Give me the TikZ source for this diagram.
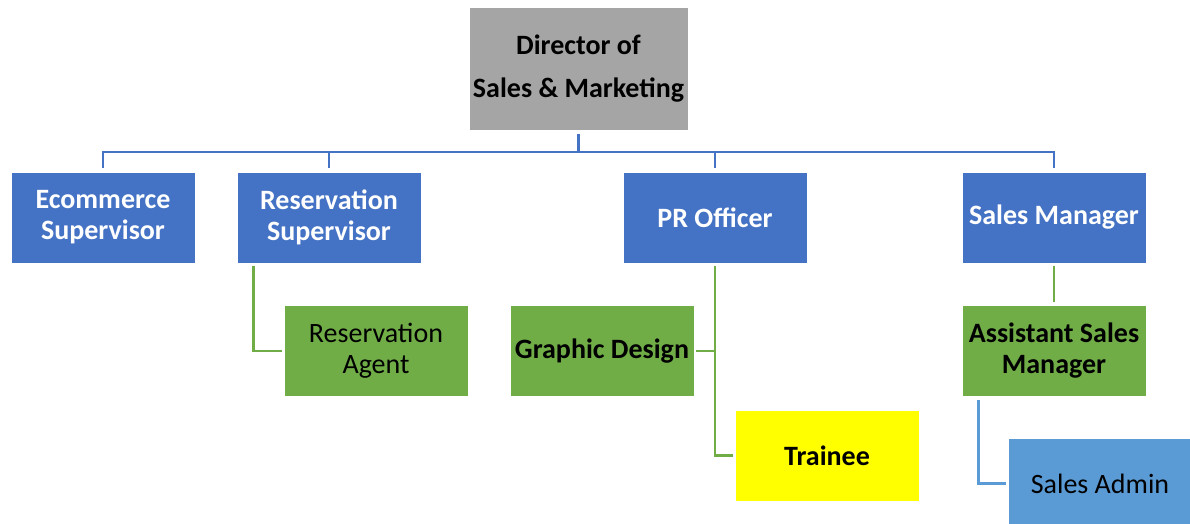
\documentclass[tikz,border=0pt]{standalone}
\usepackage{fontspec}
\setmainfont{Carlito}
\definecolor{boxblue}{HTML}{4472C4}
\definecolor{boxgreen}{HTML}{70AD47}
\definecolor{boxgray}{HTML}{A5A5A5}
\definecolor{boxyellow}{HTML}{FFFF00}
\definecolor{boxlight}{HTML}{5B9BD5}
\newcommand{\cardfont}{\fontsize{28}{31}\selectfont}
\begin{document}
\begin{tikzpicture}[x=1pt,y=-1pt,
  card/.style={draw=white,line width=0.6pt,minimum width=184pt,minimum height=91pt,
    align=center,inner sep=0pt,font=\cardfont},
  boldcard/.style={card,font=\cardfont\bfseries},
  headcard/.style={boldcard,fill=boxblue,text=white},
  conn/.style={line width=2.5pt},
  blueconn/.style={conn,draw=boxblue},
  greenconn/.style={conn,draw=boxgreen},
  lightconn/.style={conn,draw=boxlight}]
\useasboundingbox (0,0) rectangle (1190,524);
\clip (0,0) rectangle (1190,524);
\fill[white] (0,0) rectangle (1190,524);

% top of the chart
\node[card,fill=boxgray,minimum width=219pt,minimum height=123pt,
  font=\fontsize{28}{43}\selectfont\bfseries] (dir) at (578.5,68.5) {Director of\\Sales \& Marketing};

% first level
\node[headcard] (eco)  at (103,217.5)  {Ecommerce\\Supervisor};
\node[headcard] (rsup) at (329,217.5)  {Reservation\\Supervisor};
\node[headcard] (pr)   at (715,217.5)  {PR Officer};
\node[headcard] (sm)   at (1054,217.5) {Sales Manager};

% second level
\node[card,fill=boxgreen] (ragent) at (376,351) {Reservation\\Agent};
\node[boldcard,fill=boxgreen] (gd) at (602,351) {Graphic Design};
\node[boldcard,fill=boxyellow] (tr) at (827,455.5) {Trainee};
\node[boldcard,fill=boxgreen] (asm) at (1054,351) {Assistant Sales\\Manager};
\node[card,fill=boxlight] (sa) at (1100,483.5) {Sales Admin};

% bus under the director
\coordinate (bus) at (578.5,152);
\draw[blueconn] ([yshift=-4pt]dir.south) -- (bus);
\draw[blueconn] ([yshift=4pt]eco.north) |- (bus) -| ([yshift=4pt]sm.north);
\draw[blueconn] ([yshift=4pt]rsup.north) -- (rsup.north |- bus);
\draw[blueconn] ([yshift=4pt]pr.north) -- (pr.north |- bus);

% reports below the first level
\draw[greenconn] ([xshift=17pt,yshift=-3pt]rsup.south west) |- ([xshift=-2pt]ragent.west);
\draw[greenconn] ([yshift=-3pt]pr.south) |- ([xshift=-2pt]tr.west);
\draw[greenconn] ([xshift=2pt]gd.east) -- (gd.east -| pr.south);
\draw[greenconn] ([yshift=-3pt]sm.south) -- ([yshift=3pt]asm.north);
\draw[lightconn] ([xshift=17pt,yshift=-3pt]asm.south west) |- ([xshift=-2pt]sa.west);
\end{tikzpicture}
\end{document}
